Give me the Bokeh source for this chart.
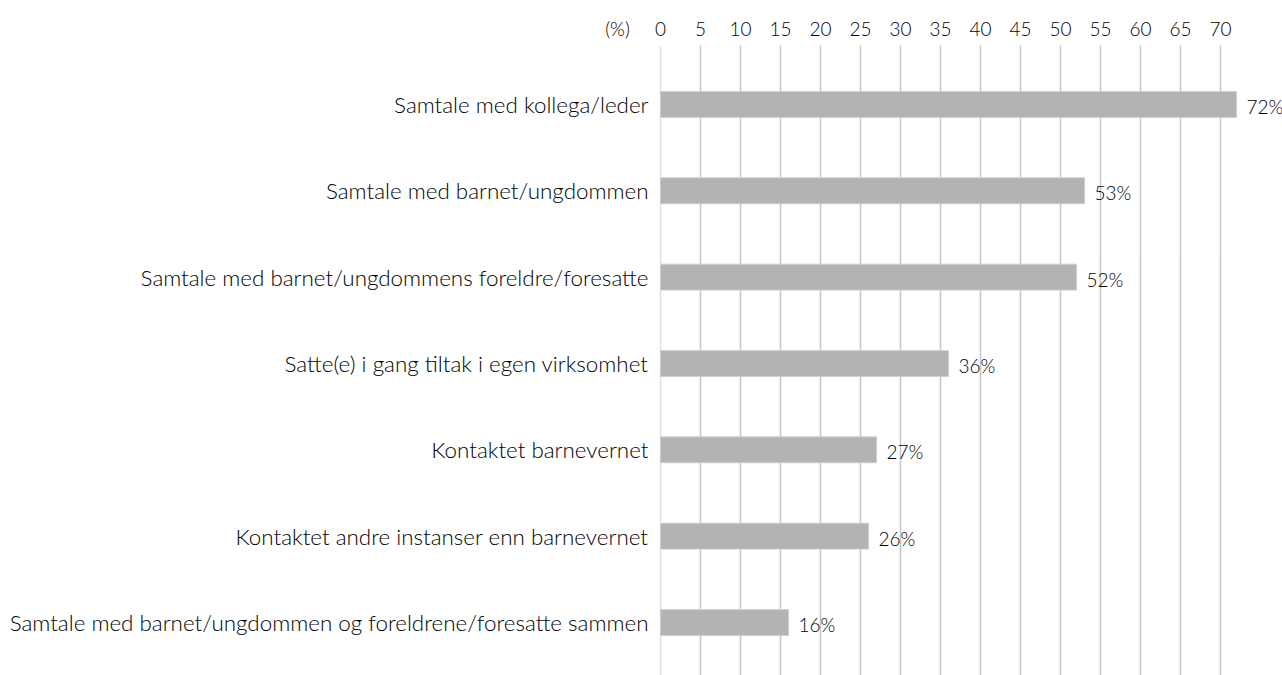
from bokeh.plotting import figure
from bokeh.models import (ColumnDataSource, Range1d, FixedTicker, LinearAxis, Grid)
from bokeh.core.properties import value
from bokeh.embed import file_html
from bokeh.resources import INLINE

categories = [
    "Samtale med kollega/leder",
    "Samtale med barnet/ungdommen",
    "Samtale med barnet/ungdommens foreldre/foresatte",
    "Satte(e) i gang tiltak i egen virksomhet",
    "Kontaktet barnevernet",
    "Kontaktet andre instanser enn barnevernet",
    "Samtale med barnet/ungdommen og foreldrene/foresatte sammen",
]
values = [72, 53, 52, 36, 27, 26, 16]
x_ticks = [0, 5, 10, 15, 20, 25, 30, 35, 40, 45, 50, 55, 60, 65, 70]
unit_label = "(%)"
unit_pos = -5.375

FONT = "Lato Light, Lato, sans-serif"
TXT = "#000000"

pos = list(range(len(categories)))
src = ColumnDataSource(dict(
    y=pos, v=values, lab=[f"{v}%" for v in values], cat=categories,
    zero=[0] * len(values)))

p = figure(width=1282, height=675, output_backend="svg", toolbar_location=None,
           x_range=Range1d(-82.5, 77.75), y_range=Range1d(6.614, -0.683),
           x_axis_location=None, y_axis_location=None,
           min_border_left=0, min_border_right=0, min_border_top=45,
           min_border_bottom=0)
p.outline_line_color = None
p.xgrid.visible = False
p.ygrid.visible = False

# grid lines
g0 = Grid(dimension=0, ticker=FixedTicker(ticks=[0]), grid_line_color="#dde2e6",
          grid_line_width=1.5)
g1 = Grid(dimension=0, ticker=FixedTicker(ticks=[t for t in x_ticks if t > 0]),
          grid_line_color="#c4c4c4", grid_line_width=1.5)
p.add_layout(g0)
p.add_layout(g1)

# top axis (with the unit label as an extra tick)
xa = LinearAxis(ticker=FixedTicker(ticks=[unit_pos] + x_ticks),
                major_label_overrides={unit_pos: unit_label})
xa.axis_line_color = None
xa.major_tick_line_color = None
xa.minor_tick_line_color = None
xa.major_label_text_font = FONT
xa.major_label_text_font_size = "19px"
xa.major_label_text_color = TXT
xa.major_label_standoff = 0
p.add_layout(xa, "above")

p.hbar(y="y", right="v", left=0, height=0.30, source=src,
       fill_color="#b3b3b3", line_color="#cfcfcf", line_width=1)

# category labels
p.text(x="zero", y="y", text="cat", source=src, x_offset=-12,
       text_align="right", text_baseline="middle",
       text_font=value(FONT), text_font_size="22.4px", text_color=TXT)

# value labels
p.text(x="v", y="y", text="lab", source=src, x_offset=10, y_offset=2,
       text_align="left", text_baseline="middle",
       text_font=value(FONT), text_font_size="19px", text_color=TXT)

open("out.html", "w").write(file_html(p, INLINE))
